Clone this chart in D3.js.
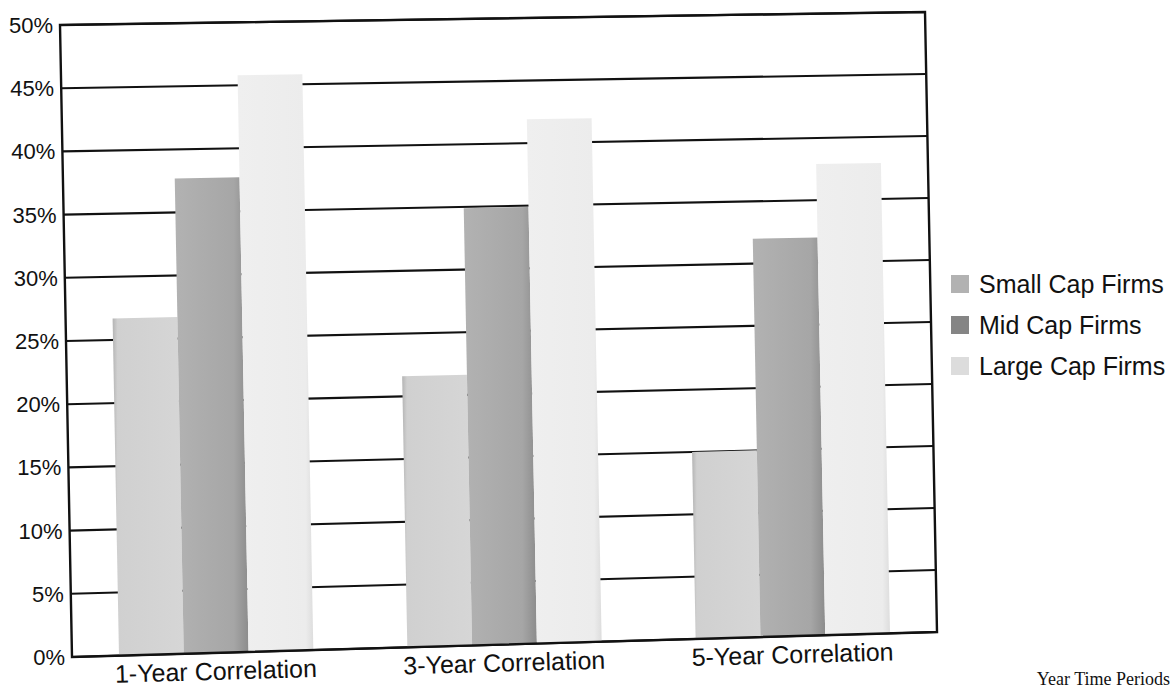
<!DOCTYPE html>
<html>
<head>
<meta charset="utf-8">
<script src="https://cdn.jsdelivr.net/npm/d3@7"></script>
<style>
  html, body { margin: 0; padding: 0; background: #ffffff; }
  svg { display: block; }
</style>
</head>
<body>
<script>
// ---------------- data ----------------
const categories = ["1-Year Correlation", "3-Year Correlation", "5-Year Correlation"];
const seriesNames = ["Small Cap Firms", "Mid Cap Firms", "Large Cap Firms"];
const smallCap = [26.7, 21.6, 15.0];
const midCap   = [37.7, 34.9, 32.0];
const largeCap = [45.8, 41.9, 37.9];
const yTickValues = [0, 5, 10, 15, 20, 25, 30, 35, 40, 45, 50];
const captionText = "Year Time Periods";

const seriesValues = [smallCap, midCap, largeCap];

// ---------------- layout ----------------
const width = 1176, height = 692;
const font = "'Liberation Sans', Arial, Helvetica, sans-serif";

// the scanned plot frame is slightly skewed: corners of the plot box on screen
const TL = [60, 25], TR = [925, 12], BL = [72, 657], BR = [937, 632];
function warp(u, v) {
  return [
    (1 - u) * (1 - v) * TL[0] + u * (1 - v) * TR[0] + (1 - u) * v * BL[0] + u * v * BR[0],
    (1 - u) * (1 - v) * TL[1] + u * (1 - v) * TR[1] + (1 - u) * v * BL[1] + u * v * BR[1]
  ];
}

const svg = d3.select("body").append("svg")
  .attr("width", width).attr("height", height)
  .style("background", "#ffffff");

const defs = svg.append("defs");
const grads = [
  { id: "gSmall", stops: [[0, "#b4b4b4"], [0.07, "#d0d0d0"], [1, "#d6d6d6"]] },
  { id: "gMid",   stops: [[0, "#b2b2b2"], [0.8, "#a6a6a6"], [1, "#8c8c8c"]] },
  { id: "gLarge", stops: [[0, "#efefef"], [0.9, "#ececec"], [1, "#dddddd"]] }
];
grads.forEach(g => {
  const lg = defs.append("linearGradient").attr("id", g.id)
    .attr("x1", 0).attr("x2", 1).attr("y1", 0).attr("y2", 0);
  g.stops.forEach(s => lg.append("stop").attr("offset", s[0]).attr("stop-color", s[1]));
});
const legendColors = ["#b2b2b2", "#858585", "#dcdcdc"];

// scales in unit plot space (u: 0..1 across, v: 0..1 top to bottom)
const x0 = d3.scaleBand().domain(categories).range([0, 1]);
const x1 = d3.scaleBand().domain(seriesNames)
  .range([x0.bandwidth() * 0.163, x0.bandwidth() * 0.837]);
const y = d3.scaleLinear().domain([0, 50]).range([1, 0]);

const line = d3.line();

// gridlines (behind bars)
svg.append("g").selectAll("path").data(yTickValues).join("path")
  .attr("d", t => line([warp(0, y(t)), warp(1, y(t))]))
  .attr("stroke", "#111").attr("stroke-width", 2.1).attr("fill", "none");

// bars
const barData = [];
categories.forEach((c, i) => {
  seriesNames.forEach((s, j) => {
    barData.push({ cat: c, ser: s, j: j, value: seriesValues[j][i] });
  });
});
svg.append("g").selectAll("path").data(barData).join("path")
  .attr("d", d => {
    const u0 = x0(d.cat) + x1(d.ser);
    const u1 = u0 + x1.bandwidth();
    const vt = y(d.value), vb = y(0);
    return line([warp(u0, vt), warp(u1, vt), warp(u1, vb), warp(u0, vb)]) + "Z";
  })
  .attr("fill", d => "url(#" + grads[d.j].id + ")");

// frame
svg.append("path")
  .attr("d", line([warp(0, 0), warp(1, 0), warp(1, 1), warp(0, 1)]) + "Z")
  .attr("fill", "none").attr("stroke", "#111").attr("stroke-width", 2.4);

// y tick labels
svg.append("g").selectAll("text").data(yTickValues).join("text")
  .attr("x", t => warp(0, y(t))[0] - 7)
  .attr("y", t => warp(0, y(t))[1] + 8)
  .attr("text-anchor", "end")
  .attr("font-family", font).attr("font-size", 22).attr("fill", "#111")
  .text(t => t + "%");

// category labels
const bottomAngle = Math.atan2(BR[1] - BL[1], BR[0] - BL[0]) * 180 / Math.PI;
svg.append("g").selectAll("text").data(categories).join("text")
  .attr("transform", c => {
    const p = warp(x0(c) + x0.bandwidth() / 2, 1);
    return "translate(" + p[0] + "," + (p[1] + 27) + ") rotate(" + bottomAngle + ")";
  })
  .attr("text-anchor", "middle")
  .attr("font-family", font).attr("font-size", 25).attr("fill", "#111")
  .text(c => c);

// legend
const legend = svg.append("g").selectAll("g").data(seriesNames).join("g")
  .attr("transform", (s, i) => "translate(951," + (275 + i * 41) + ")");
legend.append("rect").attr("width", 18).attr("height", 18)
  .attr("fill", (s, i) => legendColors[i]);
legend.append("text").attr("x", 28).attr("y", 18)
  .attr("font-family", font).attr("font-size", 25).attr("fill", "#111")
  .text(s => s);

// caption fragment from the page below the chart
svg.append("text").attr("x", 1170).attr("y", 685)
  .attr("text-anchor", "end")
  .attr("font-family", "'Liberation Serif', 'Times New Roman', serif")
  .attr("font-size", 18).attr("fill", "#111")
  .text(captionText);
</script>
</body>
</html>
